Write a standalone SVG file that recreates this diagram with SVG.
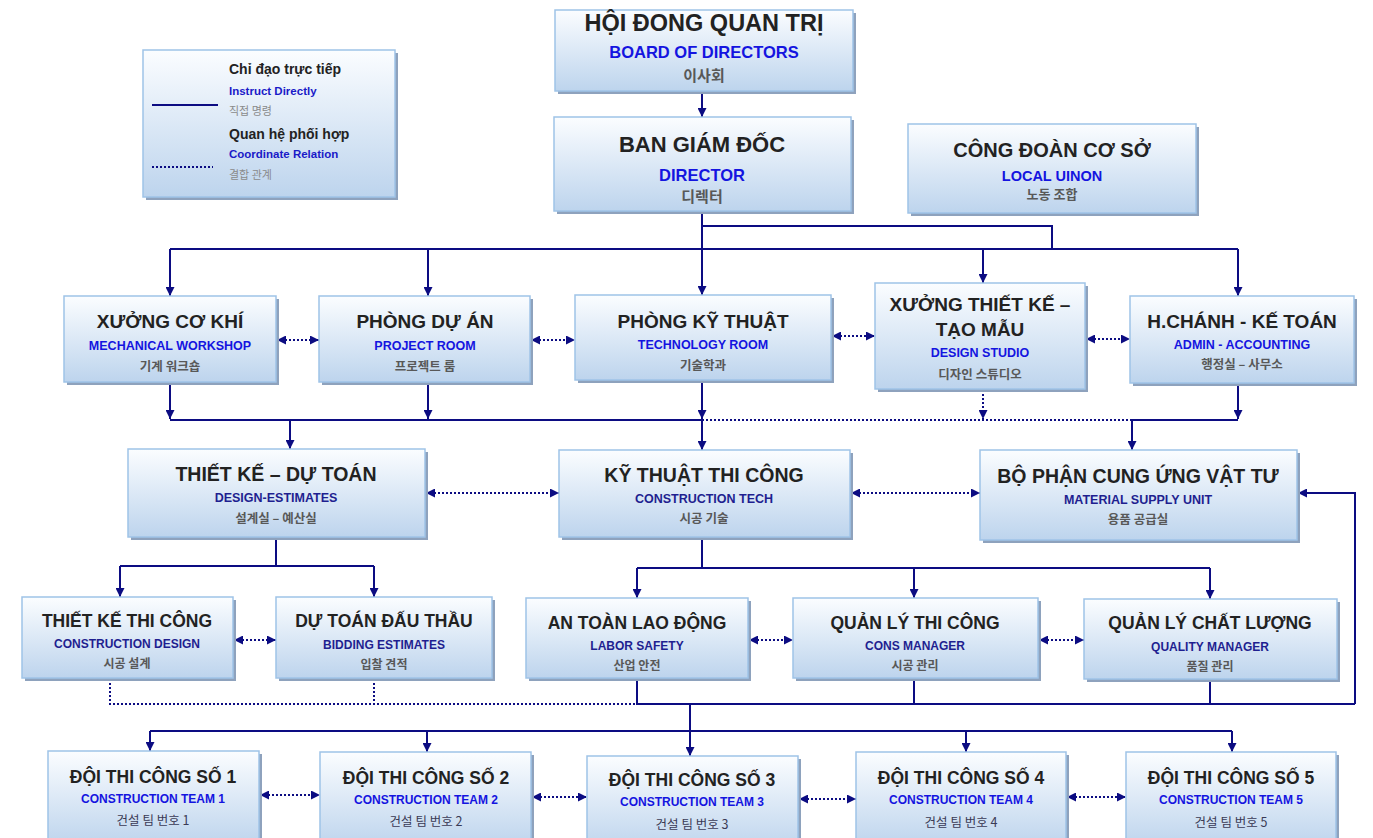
<svg xmlns="http://www.w3.org/2000/svg" width="1373" height="838" viewBox="0 0 1373 838">
<defs>
<linearGradient id="g" x1="0" y1="0" x2="0" y2="1">
<stop offset="0" stop-color="#fbfdff"/>
<stop offset="1" stop-color="#bdd4ed"/>
</linearGradient>
<marker id="a" viewBox="0 0 10 10" refX="10" refY="5" markerWidth="9" markerHeight="9" markerUnits="userSpaceOnUse" orient="auto-start-reverse">
<path d="M0,0L10,5L0,10z" fill="#0c0c82"/>
</marker>
</defs>
<style>
.box{fill:url(#g);stroke:#9fc3e7;stroke-width:1.5}
.sh{fill:#8ea2bd}
.t{font-family:"Liberation Sans",Arial,sans-serif;font-weight:bold;fill:#222;text-anchor:middle}
.e{font-family:"Liberation Sans",Arial,sans-serif;font-weight:bold;fill:#1414e0;text-anchor:middle}
.n{fill:#1f1f90}
.k{font-family:"Noto Sans CJK KR",sans-serif;font-weight:bold;fill:#585858;text-anchor:middle}
.kt{font-family:"Noto Sans CJK KR",sans-serif;fill:#3a3a55;text-anchor:middle;font-size:12.5px}
.c{stroke:#0c0c82;stroke-width:2;fill:none}
.d{stroke-dasharray:2 2}
.ar{marker-end:url(#a)}
.da{marker-start:url(#a);marker-end:url(#a)}
.lt{font-family:"Liberation Sans",Arial,sans-serif;font-weight:bold;fill:#222;font-size:14px}
.le{font-family:"Liberation Sans",Arial,sans-serif;font-weight:bold;fill:#1a1ac8;font-size:11.5px}
.lk{font-family:"Noto Sans CJK KR",sans-serif;fill:#8a8a8a;font-size:11px}
</style>

<g id="legend">
<rect class="sh" x="146" y="53" width="252" height="147"/>
<rect class="box" x="143" y="50" width="252" height="147"/>
<line class="c" x1="152" y1="105" x2="218" y2="105"/>
<line class="c d" x1="152" y1="167" x2="213" y2="167"/>
<text class="lt" x="229" y="74">Chỉ đạo trực tiếp</text>
<text class="le" x="229" y="95">Instruct Directly</text>
<text class="lk" x="229" y="115">직접 명령</text>
<text class="lt" x="229" y="139">Quan hệ phối hợp</text>
<text class="le" x="229" y="158">Coordinate Relation</text>
<text class="lk" x="229" y="179">결합 관계</text>
</g>

<g id="connectors">
<path class="c ar" d="M702,91V117"/>
<path class="c" d="M702,211V249M702,226H1052V249M170,249H1238"/>
<path class="c ar" d="M170,249V296"/>
<path class="c ar" d="M428,249V296"/>
<path class="c ar" d="M702,249V295"/>
<path class="c ar" d="M983,249V283"/>
<path class="c ar" d="M1238,249V296"/>
<path class="c d da" d="M277,340H319"/>
<path class="c d da" d="M531,340H575"/>
<path class="c d da" d="M832,336H875"/>
<path class="c d da" d="M1086,339H1130"/>
<path class="c ar" d="M170,383V419"/>
<path class="c ar" d="M428,383V419"/>
<path class="c ar" d="M702,381V419"/>
<path class="c d ar" d="M983,390V419"/>
<path class="c ar" d="M1238,384V419"/>
<path class="c" d="M170,420H702M1132,420H1238"/>
<path class="c d" d="M702,420H1132"/>
<path class="c ar" d="M290,420V449"/>
<path class="c ar" d="M702,420V450"/>
<path class="c ar" d="M1132,420V450"/>
<path class="c d da" d="M426,493H559"/>
<path class="c d da" d="M851,493H980"/>
<path class="c ar" d="M1355,704V493H1298"/>
<path class="c" d="M276,538V566M120,566H374"/>
<path class="c ar" d="M120,566V597"/>
<path class="c ar" d="M374,566V597"/>
<path class="c d da" d="M234,640H276"/>
<path class="c d" d="M110,679V704H637M374,679V704"/>
<path class="c" d="M702,538V568M637,568H1210"/>
<path class="c ar" d="M637,568V598"/>
<path class="c ar" d="M914,568V598"/>
<path class="c ar" d="M1210,568V599"/>
<path class="c d da" d="M749,640H793"/>
<path class="c d da" d="M1039,640H1084"/>
<path class="c" d="M637,679V704H1355M914,679V704M1210,679V704M690,704V731M150,731H1232"/>
<path class="c ar" d="M150,731V751"/>
<path class="c ar" d="M427,731V752"/>
<path class="c ar" d="M690,731V756"/>
<path class="c ar" d="M966,731V752"/>
<path class="c ar" d="M1232,731V752"/>
<path class="c d da" d="M260,795H320"/>
<path class="c d da" d="M532,797H587"/>
<path class="c d da" d="M799,799H856"/>
<path class="c d da" d="M1067,797H1126"/>
</g>

<g id="board">
<rect class="sh" x="558" y="13" width="298" height="81"/>
<rect class="box" x="555" y="10" width="298" height="81"/>
<text class="t" x="704" y="31" font-size="23.5">HỘI ĐONG QUAN TRỊ</text>
<text class="e" x="704" y="58" font-size="16.5">BOARD OF DIRECTORS</text>
<text class="k" x="704" y="81" font-size="15" font-weight="normal">이사회</text>
</g>

<g id="director">
<rect class="sh" x="557" y="120" width="297" height="94"/>
<rect class="box" x="554" y="117" width="297" height="94"/>
<text class="t" x="702" y="152" font-size="22">BAN GIÁM ĐỐC</text>
<text class="e" x="702" y="181" font-size="16.5">DIRECTOR</text>
<text class="k" x="702" y="202" font-size="15" font-weight="normal">디렉터</text>
</g>

<g id="union">
<rect class="sh" x="911" y="127" width="288" height="89"/>
<rect class="box" x="908" y="124" width="288" height="89"/>
<text class="t" x="1052" y="157" font-size="20">CÔNG ĐOÀN CƠ SỞ</text>
<text class="e" x="1052" y="181" font-size="14.5">LOCAL UINON</text>
<text class="k" x="1052" y="199" font-size="13">노동 조합</text>
</g>

<g id="xuong-co-khi">
<rect class="sh" x="67" y="299" width="212" height="86"/>
<rect class="box" x="64" y="296" width="212" height="86"/>
<text class="t" x="170" y="328" font-size="19">XƯỞNG CƠ KHÍ</text>
<text class="e" x="170" y="350" font-size="12.5">MECHANICAL WORKSHOP</text>
<text class="k" x="170" y="371" font-size="12.5">기계 워크숍</text>
</g>

<g id="phong-du-an">
<rect class="sh" x="322" y="299" width="211" height="86"/>
<rect class="box" x="319" y="296" width="211" height="86"/>
<text class="t" x="425" y="328" font-size="19">PHÒNG DỰ ÁN</text>
<text class="e" x="425" y="350" font-size="12.5">PROJECT ROOM</text>
<text class="k" x="425" y="371" font-size="12.5">프로젝트 룸</text>
</g>

<g id="phong-ky-thuat">
<rect class="sh" x="578" y="298" width="256" height="85"/>
<rect class="box" x="575" y="295" width="256" height="85"/>
<text class="t" x="703" y="328" font-size="19">PHÒNG KỸ THUẬT</text>
<text class="e" x="703" y="349" font-size="12.5">TECHNOLOGY ROOM</text>
<text class="k" x="703" y="370" font-size="12.5">기술학과</text>
</g>

<g id="xuong-thiet-ke">
<rect class="sh" x="878" y="286" width="210" height="106"/>
<rect class="box" x="875" y="283" width="210" height="106"/>
<text class="t" x="980" y="311" font-size="19">XƯỞNG THIẾT KẾ –</text>
<text class="t" x="980" y="336" font-size="19">TẠO MẪU</text>
<text class="e" x="980" y="357" font-size="12.5">DESIGN STUDIO</text>
<text class="k" x="980" y="379" font-size="12.5">디자인 스튜디오</text>
</g>

<g id="hanh-chanh">
<rect class="sh" x="1133" y="299" width="224" height="87"/>
<rect class="box" x="1130" y="296" width="224" height="87"/>
<text class="t" x="1242" y="328" font-size="19">H.CHÁNH - KẾ TOÁN</text>
<text class="e" x="1242" y="349" font-size="12.5">ADMIN - ACCOUNTING</text>
<text class="k" x="1242" y="369" font-size="12.5">행정실 – 사무소</text>
</g>

<g id="thiet-ke-du-toan">
<rect class="sh" x="131" y="452" width="297" height="88"/>
<rect class="box" x="128" y="449" width="297" height="88"/>
<text class="t" x="276" y="481" font-size="19.5">THIẾT KẾ – DỰ TOÁN</text>
<text class="e n" x="276" y="502" font-size="12.5">DESIGN-ESTIMATES</text>
<text class="k" x="276" y="523" font-size="12.5">설계실 – 예산실</text>
</g>

<g id="ky-thuat-thi-cong">
<rect class="sh" x="562" y="453" width="291" height="87"/>
<rect class="box" x="559" y="450" width="291" height="87"/>
<text class="t" x="704" y="482" font-size="19.5">KỸ THUẬT THI CÔNG</text>
<text class="e n" x="704" y="503" font-size="12.5">CONSTRUCTION TECH</text>
<text class="k" x="704" y="523" font-size="12.5">시공 기술</text>
</g>

<g id="cung-ung-vat-tu">
<rect class="sh" x="983" y="453" width="317" height="90"/>
<rect class="box" x="980" y="450" width="317" height="90"/>
<text class="t" x="1138" y="483" font-size="19.5">BỘ PHẬN CUNG ỨNG VẬT TƯ</text>
<text class="e n" x="1138" y="504" font-size="12.5">MATERIAL SUPPLY UNIT</text>
<text class="k" x="1138" y="524" font-size="12.5">용품 공급실</text>
</g>

<g id="thiet-ke-thi-cong">
<rect class="sh" x="25" y="600" width="211" height="81"/>
<rect class="box" x="22" y="597" width="211" height="81"/>
<text class="t" x="127" y="627" font-size="17.5">THIẾT KẾ THI CÔNG</text>
<text class="e n" x="127" y="648" font-size="12">CONSTRUCTION DESIGN</text>
<text class="k" x="127" y="668" font-size="12">시공 설계</text>
</g>

<g id="du-toan-dau-thau">
<rect class="sh" x="279" y="600" width="216" height="81"/>
<rect class="box" x="276" y="597" width="216" height="81"/>
<text class="t" x="384" y="627" font-size="17.5">DỰ TOÁN ĐẤU THẦU</text>
<text class="e n" x="384" y="649" font-size="12">BIDDING ESTIMATES</text>
<text class="k" x="384" y="669" font-size="12">입찰 견적</text>
</g>

<g id="an-toan-lao-dong">
<rect class="sh" x="529" y="601" width="222" height="80"/>
<rect class="box" x="526" y="598" width="222" height="80"/>
<text class="t" x="637" y="629" font-size="17.5">AN TOÀN LAO ĐỘNG</text>
<text class="e n" x="637" y="650" font-size="12">LABOR SAFETY</text>
<text class="k" x="637" y="670" font-size="12">산업 안전</text>
</g>

<g id="quan-ly-thi-cong">
<rect class="sh" x="796" y="601" width="245" height="80"/>
<rect class="box" x="793" y="598" width="245" height="80"/>
<text class="t" x="915" y="629" font-size="17.5">QUẢN LÝ THI CÔNG</text>
<text class="e n" x="915" y="650" font-size="12">CONS MANAGER</text>
<text class="k" x="915" y="670" font-size="12">시공 관리</text>
</g>

<g id="quan-ly-chat-luong">
<rect class="sh" x="1087" y="602" width="253" height="80"/>
<rect class="box" x="1084" y="599" width="253" height="80"/>
<text class="t" x="1210" y="629" font-size="17.5">QUẢN LÝ CHẤT LƯỢNG</text>
<text class="e n" x="1210" y="651" font-size="12">QUALITY MANAGER</text>
<text class="k" x="1210" y="671" font-size="12">품질 관리</text>
</g>

<g id="team-1">
<rect class="sh" x="51" y="754" width="211" height="95"/>
<rect class="box" x="48" y="751" width="211" height="95"/>
<text class="t" x="153" y="783" font-size="17.5">ĐỘI THI CÔNG SỐ 1</text>
<text class="e" x="153" y="803" font-size="12">CONSTRUCTION TEAM 1</text>
<text class="kt" x="153" y="825">건설 팀 번호 1</text>
</g>

<g id="team-2">
<rect class="sh" x="323" y="755" width="211" height="95"/>
<rect class="box" x="320" y="752" width="211" height="95"/>
<text class="t" x="426" y="784" font-size="17.5">ĐỘI THI CÔNG SỐ 2</text>
<text class="e" x="426" y="804" font-size="12">CONSTRUCTION TEAM 2</text>
<text class="kt" x="426" y="826">건설 팀 번호 2</text>
</g>

<g id="team-3">
<rect class="sh" x="590" y="759" width="211" height="95"/>
<rect class="box" x="587" y="756" width="211" height="95"/>
<text class="t" x="692" y="786" font-size="17.5">ĐỘI THI CÔNG SỐ 3</text>
<text class="e" x="692" y="806" font-size="12">CONSTRUCTION TEAM 3</text>
<text class="kt" x="692" y="829">건설 팀 번호 3</text>
</g>

<g id="team-4">
<rect class="sh" x="859" y="755" width="210" height="95"/>
<rect class="box" x="856" y="752" width="210" height="95"/>
<text class="t" x="961" y="784" font-size="17.5">ĐỘI THI CÔNG SỐ 4</text>
<text class="e" x="961" y="804" font-size="12">CONSTRUCTION TEAM 4</text>
<text class="kt" x="961" y="827">건설 팀 번호 4</text>
</g>

<g id="team-5">
<rect class="sh" x="1129" y="755" width="210" height="95"/>
<rect class="box" x="1126" y="752" width="210" height="95"/>
<text class="t" x="1231" y="784" font-size="17.5">ĐỘI THI CÔNG SỐ 5</text>
<text class="e" x="1231" y="804" font-size="12">CONSTRUCTION TEAM 5</text>
<text class="kt" x="1231" y="827">건설 팀 번호 5</text>
</g>
</svg>
